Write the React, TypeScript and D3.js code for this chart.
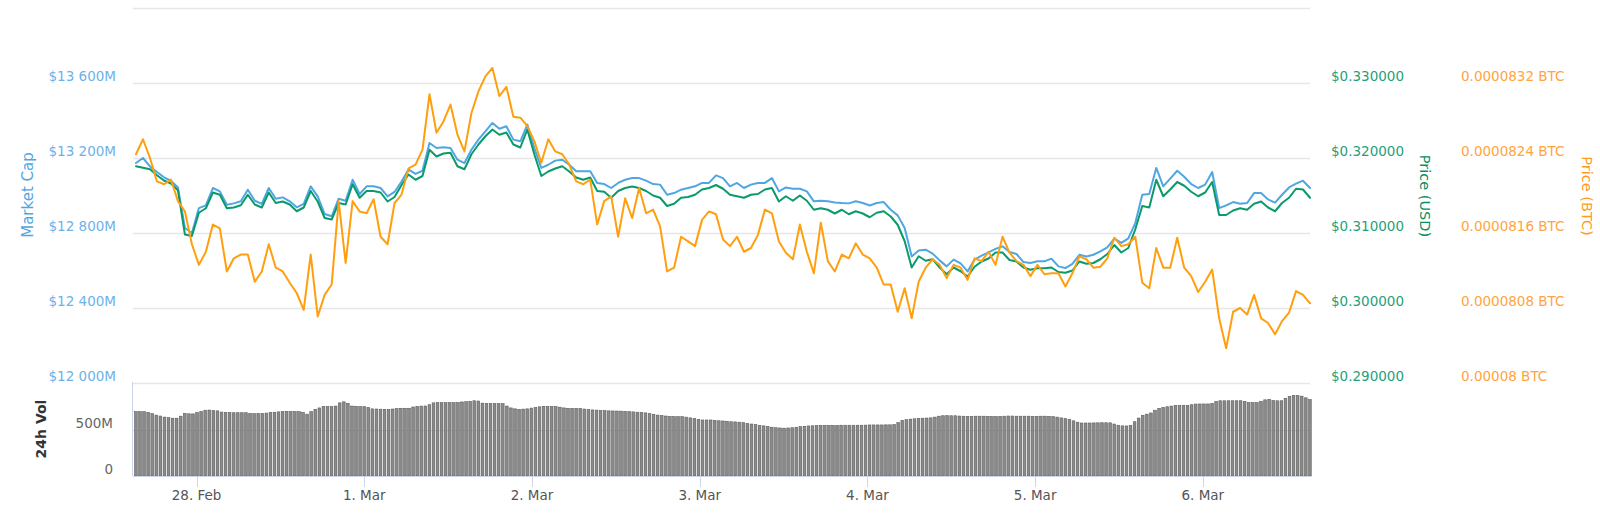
import { useEffect, useRef } from 'react';
import * as d3 from 'd3';

const W = 1600;
const H = 517;

// 7-day window, hourly samples for the lines
const START = new Date(2019, 1, 27, 15, 20);
const END = new Date(2019, 2, 6, 15, 20);

// Market cap, $M (hourly)
const marketCap = [
  13173, 13200, 13155, 13125, 13097, 13079, 13043, 12827, 12800, 12933,
  12947, 13040, 13022, 12951, 12958, 12969, 13031, 12972, 12955, 13040,
  12983, 12990, 12969, 12937, 12955, 13049, 12995, 12901, 12889, 12983,
  12972, 13084, 13008, 13049, 13049, 13040, 12995, 13019, 13075, 13138,
  13115, 13132, 13280, 13253, 13257, 13253, 13191, 13173, 13244, 13298,
  13342, 13387, 13356, 13369, 13298, 13289, 13378, 13253, 13147, 13164,
  13186, 13191, 13164, 13129, 13129, 13129, 13067, 13061, 13040, 13067,
  13084, 13093, 13093, 13079, 13061, 13058, 13004, 13013, 13031, 13040,
  13049, 13067, 13067, 13107, 13093, 13049, 13067, 13040, 13058, 13067,
  13067, 13093, 13022, 13043, 13036, 13036, 13022, 12969, 12972, 12969,
  12963, 12960, 12958, 12969, 12960, 12947, 12960, 12965, 12924, 12894,
  12827, 12675, 12707, 12711, 12690, 12654, 12622, 12658, 12638, 12595,
  12658, 12679, 12697, 12715, 12729, 12699, 12688, 12645, 12640, 12649,
  12649, 12663, 12622, 12613, 12635, 12684, 12675, 12684, 12702, 12723,
  12770, 12747, 12771, 12853, 13004, 13008, 13147, 13049, 13090, 13132,
  13100, 13061, 13040, 13058, 13125, 12933, 12947, 12965, 12956, 12960,
  13013, 13013, 12979, 12962, 13004, 13043, 13063, 13079, 13040,
];

// Price in USD (hourly)
const priceUsd = [
  0.3189, 0.3187, 0.3185, 0.3177, 0.317, 0.3166, 0.3157, 0.3098, 0.3096, 0.3127,
  0.3133, 0.3154, 0.3151, 0.3133, 0.3134, 0.3137, 0.3151, 0.3138, 0.3134, 0.3154,
  0.314, 0.3142, 0.3138, 0.3129, 0.3134, 0.3156, 0.3142, 0.312, 0.3118, 0.314,
  0.3138, 0.3165, 0.3147, 0.3156, 0.3156, 0.3154, 0.3142, 0.3148, 0.3164, 0.3178,
  0.3171, 0.3176, 0.3211, 0.3202, 0.3206, 0.3207, 0.3189, 0.3185, 0.3205, 0.3218,
  0.3229, 0.3238, 0.3231, 0.3234, 0.3218, 0.3214, 0.3238, 0.3205, 0.3176, 0.3182,
  0.3186, 0.3189, 0.3182, 0.3174, 0.3171, 0.3174, 0.3156, 0.3155, 0.3147, 0.3156,
  0.316, 0.3162, 0.316, 0.3156, 0.315, 0.3147, 0.3136, 0.3139, 0.3147, 0.3148,
  0.3151, 0.3158, 0.316, 0.3164, 0.3159, 0.3151, 0.3149, 0.3147, 0.3151, 0.3152,
  0.3158, 0.316, 0.3142, 0.3149, 0.3143, 0.315, 0.3143, 0.3131, 0.3133, 0.3131,
  0.3126, 0.3131, 0.3125, 0.3129, 0.3126, 0.3121, 0.3127, 0.3129, 0.3122, 0.3111,
  0.3089, 0.3054, 0.3069, 0.3063, 0.3065, 0.3054, 0.3045, 0.3054, 0.3049, 0.3042,
  0.3055, 0.3062, 0.3066, 0.3074, 0.3074, 0.3064, 0.3062, 0.3054, 0.3051, 0.3053,
  0.3053, 0.3054, 0.3048, 0.3047, 0.305, 0.3062, 0.3059, 0.306, 0.3065, 0.3072,
  0.3084, 0.3074, 0.308, 0.3105, 0.3136, 0.3134, 0.3171, 0.3149, 0.3158, 0.3168,
  0.3163, 0.3155, 0.3149, 0.3154, 0.3168, 0.3124, 0.3124, 0.313, 0.3133, 0.3131,
  0.3139, 0.3142, 0.3134, 0.3129, 0.314, 0.3147, 0.3159, 0.3158, 0.3147,
];

// Price in BTC, satoshi (1e-8 BTC), hourly
const priceBtcSat = [
  8244, 8260, 8240, 8215, 8212, 8217, 8194, 8183, 8148, 8126,
  8140, 8169, 8165, 8119, 8133, 8137, 8137, 8108, 8119, 8148,
  8123, 8119, 8107, 8096, 8078, 8137, 8071, 8094, 8105, 8194,
  8128, 8194, 8183, 8181, 8196, 8156, 8148, 8192, 8201, 8229,
  8233, 8249, 8308, 8267, 8279, 8297, 8265, 8247, 8288, 8311,
  8327, 8336, 8306, 8316, 8284, 8283, 8274, 8258, 8235, 8260,
  8247, 8244, 8233, 8215, 8212, 8217, 8169, 8194, 8199, 8156,
  8197, 8176, 8208, 8181, 8185, 8167, 8119, 8123, 8156, 8151,
  8146, 8174, 8183, 8180, 8153, 8146, 8156, 8140, 8144, 8158,
  8185, 8181, 8151, 8139, 8132, 8169, 8140, 8117, 8171, 8130,
  8119, 8137, 8133, 8149, 8137, 8133, 8123, 8105, 8105, 8076,
  8101, 8069, 8108, 8123, 8132, 8126, 8112, 8126, 8123, 8110,
  8133, 8130, 8140, 8126, 8156, 8139, 8130, 8126, 8114, 8126,
  8116, 8117, 8117, 8103, 8117, 8135, 8132, 8123, 8124, 8133,
  8155, 8146, 8148, 8156, 8107, 8101, 8144, 8123, 8123, 8155,
  8123, 8114, 8097, 8108, 8121, 8069, 8037, 8076, 8080, 8073,
  8094, 8069, 8064, 8052, 8066, 8075, 8098, 8094, 8085,
];

// 24h volume, $M (289 bars across the same window)
const volume24h = [
  699, 699, 699, 692, 678, 662, 652, 640, 634, 628,
  628, 650, 680, 676, 675, 690, 700, 715, 717, 712,
  708, 695, 692, 690, 688, 688, 688, 688, 680, 678,
  680, 681, 684, 690, 693, 697, 702, 703, 701, 700,
  699, 690, 672, 700, 725, 740, 754, 754, 754, 760,
  795, 806, 790, 760, 758, 755, 754, 745, 730, 728,
  726, 725, 725, 728, 732, 736, 736, 736, 750, 757,
  760, 761, 775, 795, 797, 797, 797, 797, 797, 798,
  805, 808, 812, 818, 815, 792, 789, 788, 787, 786,
  786, 760, 740, 730, 725, 727, 730, 738, 744, 752,
  757, 756, 755, 754, 748, 740, 736, 736, 736, 736,
  728, 722, 718, 716, 712, 710, 708, 707, 706, 705,
  703, 700, 697, 694, 692, 686, 679, 670, 662, 657,
  652, 647, 645, 645, 645, 640, 632, 625, 615, 609,
  609, 609, 605, 600, 598, 595, 590, 588, 585, 580,
  572, 565, 558, 550, 545, 538, 530, 525, 522, 520,
  522, 525, 530, 536, 540, 544, 546, 548, 550, 550,
  550, 550, 550, 552, 552, 552, 552, 552, 552, 553,
  555, 555, 555, 555, 556, 556, 560, 580, 605, 612,
  618, 622, 626, 628, 630, 632, 640, 650, 655, 656,
  655, 655, 652, 650, 648, 648, 650, 650, 650, 648,
  646, 645, 648, 650, 652, 652, 650, 650, 650, 650,
  648, 648, 650, 650, 648, 645, 640, 632, 625, 615,
  600, 585, 576, 576, 576, 577, 578, 579, 579, 578,
  565, 552, 545, 544, 550, 590, 630, 660, 672, 685,
  715, 735, 746, 753, 760, 766, 768, 768, 768, 775,
  782, 783, 783, 783, 790, 812, 818, 818, 818, 818,
  818, 818, 810, 797, 797, 797, 810, 828, 834, 820,
  818, 818, 845, 865, 877, 874, 868, 850, 830,
];

const capGrid = [12000, 12400, 12800, 13200, 13600, 14000];
const capTicks = [12000, 12400, 12800, 13200, 13600];
const capTickLabels = ['$12 000M', '$12 400M', '$12 800M', '$13 200M', '$13 600M'];
const usdTicks = [0.29, 0.3, 0.31, 0.32, 0.33];
const usdTickLabels = ['$0.290000', '$0.300000', '$0.310000', '$0.320000', '$0.330000'];
const btcTicks = [8000, 8080, 8160, 8240, 8320];
const btcTickLabels = ['0.00008 BTC', '0.0000808 BTC', '0.0000816 BTC', '0.0000824 BTC', '0.0000832 BTC'];
const volTicks = [0, 500];
const volTickLabels = ['0', '500M'];

const CAP_LINE = '#4fa7e2';
const CAP_TEXT = '#6cb2ea';
const USD_LINE = '#0a9a6c';
const USD_TEXT = '#1f9f7c';
const BTC_LINE = '#ff9f0e';
const BTC_TEXT = '#ffa440';
const AXIS = '#ccd6eb';
const GRID = '#e6e6e6';

export default function App() {
  const svgRef = useRef<SVGSVGElement>(null);

  useEffect(() => {
    if (!svgRef.current) return;
    const svg = d3.select(svgRef.current);
    svg.selectAll('*').remove();

    const x0 = 136;
    const x1 = 1310;
    const x = d3.scaleTime().domain([START, END]).range([x0, x1]);
    const yCap = d3.scaleLinear().domain([12000, 14000]).range([383, 8]);
    const yUsd = d3.scaleLinear().domain([0.29, 0.34]).range([383, 8]);
    const yBtc = d3.scaleLinear().domain([8000, 8400]).range([383, 8]);
    const yVol = d3.scaleLinear().domain([0, 1000]).range([476, 384]);

    const hours = marketCap.map((_, i) => d3.timeHour.offset(START, i));
    const span = +END - +START;
    const volTimes = volume24h.map(
      (_, i) => new Date(+START + (i * span) / (volume24h.length - 1))
    );

    const font = '"DejaVu Sans", Verdana, sans-serif';
    svg.attr('font-family', font);

    // grid
    svg
      .append('g')
      .selectAll('line')
      .data(capGrid)
      .join('line')
      .attr('x1', x0 - 3)
      .attr('x2', x1)
      .attr('y1', (d) => Math.round(yCap(d)) + 0.5)
      .attr('y2', (d) => Math.round(yCap(d)) + 0.5)
      .attr('stroke', GRID)
      .attr('stroke-width', 1.6);

    svg
      .append('line')
      .attr('x1', x0 - 3)
      .attr('x2', x1)
      .attr('y1', Math.round(yVol(500)) + 0.5)
      .attr('y2', Math.round(yVol(500)) + 0.5)
      .attr('stroke', '#d8d8d8');

    // volume bars
    const step = (x1 - x0) / (volume24h.length - 1);
    svg
      .append('g')
      .selectAll('rect')
      .data(volume24h)
      .join('rect')
      .attr('x', (_, i) => x(volTimes[i]) - step / 2 + 0.6)
      .attr('width', step - 1.4)
      .attr('y', (d) => yVol(d))
      .attr('height', (d) => yVol(0) - yVol(d))
      .attr('fill', '#8a8a8a')
      .attr('stroke', '#5c5c5c')
      .attr('stroke-width', 0.6);

    // axis lines
    svg
      .append('line')
      .attr('x1', x0 - 3)
      .attr('x2', x1)
      .attr('y1', 476.5)
      .attr('y2', 476.5)
      .attr('stroke', AXIS);
    svg
      .append('line')
      .attr('x1', 132.5)
      .attr('x2', 132.5)
      .attr('y1', 382)
      .attr('y2', 476)
      .attr('stroke', AXIS);

    const days = d3.timeDay.range(d3.timeDay.ceil(START), END);
    const fmt = d3.timeFormat('%-d. %b');
    const xt = svg.append('g');
    xt.selectAll('line')
      .data(days)
      .join('line')
      .attr('x1', (d) => Math.round(x(d)) + 0.5)
      .attr('x2', (d) => Math.round(x(d)) + 0.5)
      .attr('y1', 476)
      .attr('y2', 487)
      .attr('stroke', AXIS);
    xt.selectAll('text')
      .data(days)
      .join('text')
      .attr('x', (d) => x(d))
      .attr('y', 500)
      .attr('text-anchor', 'middle')
      .attr('font-size', 13.5)
      .attr('fill', '#555')
      .text((d) => fmt(d));

    // lines
    const drawLine = (vals: number[], y: d3.ScaleLinear<number, number>, color: string) => {
      const line = d3
        .line<number>()
        .x((_, i) => x(hours[i]))
        .y((d) => y(d));
      svg
        .append('path')
        .datum(vals)
        .attr('d', line)
        .attr('fill', 'none')
        .attr('stroke', color)
        .attr('stroke-width', 2)
        .attr('stroke-linejoin', 'round')
        .attr('stroke-linecap', 'round');
    };
    drawLine(marketCap, yCap, CAP_LINE);
    drawLine(priceUsd, yUsd, USD_LINE);
    drawLine(priceBtcSat, yBtc, BTC_LINE);

    // y labels
    const labels = (
      ticks: number[],
      texts: string[],
      y: d3.ScaleLinear<number, number>,
      xPos: number,
      anchor: string,
      color: string
    ) => {
      svg
        .append('g')
        .selectAll('text')
        .data(ticks)
        .join('text')
        .attr('x', xPos)
        .attr('y', (d) => y(d) - 2)
        .attr('text-anchor', anchor)
        .attr('font-size', 13.5)
        .attr('fill', color)
        .text((_, i) => texts[i]);
    };
    labels(capTicks, capTickLabels, yCap, 116, 'end', CAP_TEXT);
    labels(usdTicks, usdTickLabels, yUsd, 1331, 'start', USD_TEXT);
    labels(btcTicks, btcTickLabels, yBtc, 1461, 'start', BTC_TEXT);
    labels(volTicks, volTickLabels, yVol, 113, 'end', '#666');

    // axis titles
    const title = (
      text: string,
      tx: number,
      ty: number,
      rot: number,
      size: number,
      color: string,
      weight = 'normal'
    ) => {
      svg
        .append('text')
        .attr('transform', `translate(${tx},${ty}) rotate(${rot})`)
        .attr('text-anchor', 'middle')
        .attr('font-size', size)
        .attr('font-weight', weight)
        .attr('fill', color)
        .text(text);
    };
    title('Market Cap', 33, 195, -90, 15, '#4fa6e3');
    title('24h Vol', 46, 429, -90, 14, '#333', 'bold');
    title('Price (USD)', 1420, 196, 90, 14.5, '#0a8f63');
    title('Price (BTC)', 1582, 196, 90, 14.5, '#ff9a1f');
  }, []);

  return (
    <svg
      ref={svgRef}
      width={W}
      height={H}
      viewBox={`0 0 ${W} ${H}`}
      style={{ position: 'absolute', left: 0, top: 0, background: '#fff' }}
    />
  );
}
